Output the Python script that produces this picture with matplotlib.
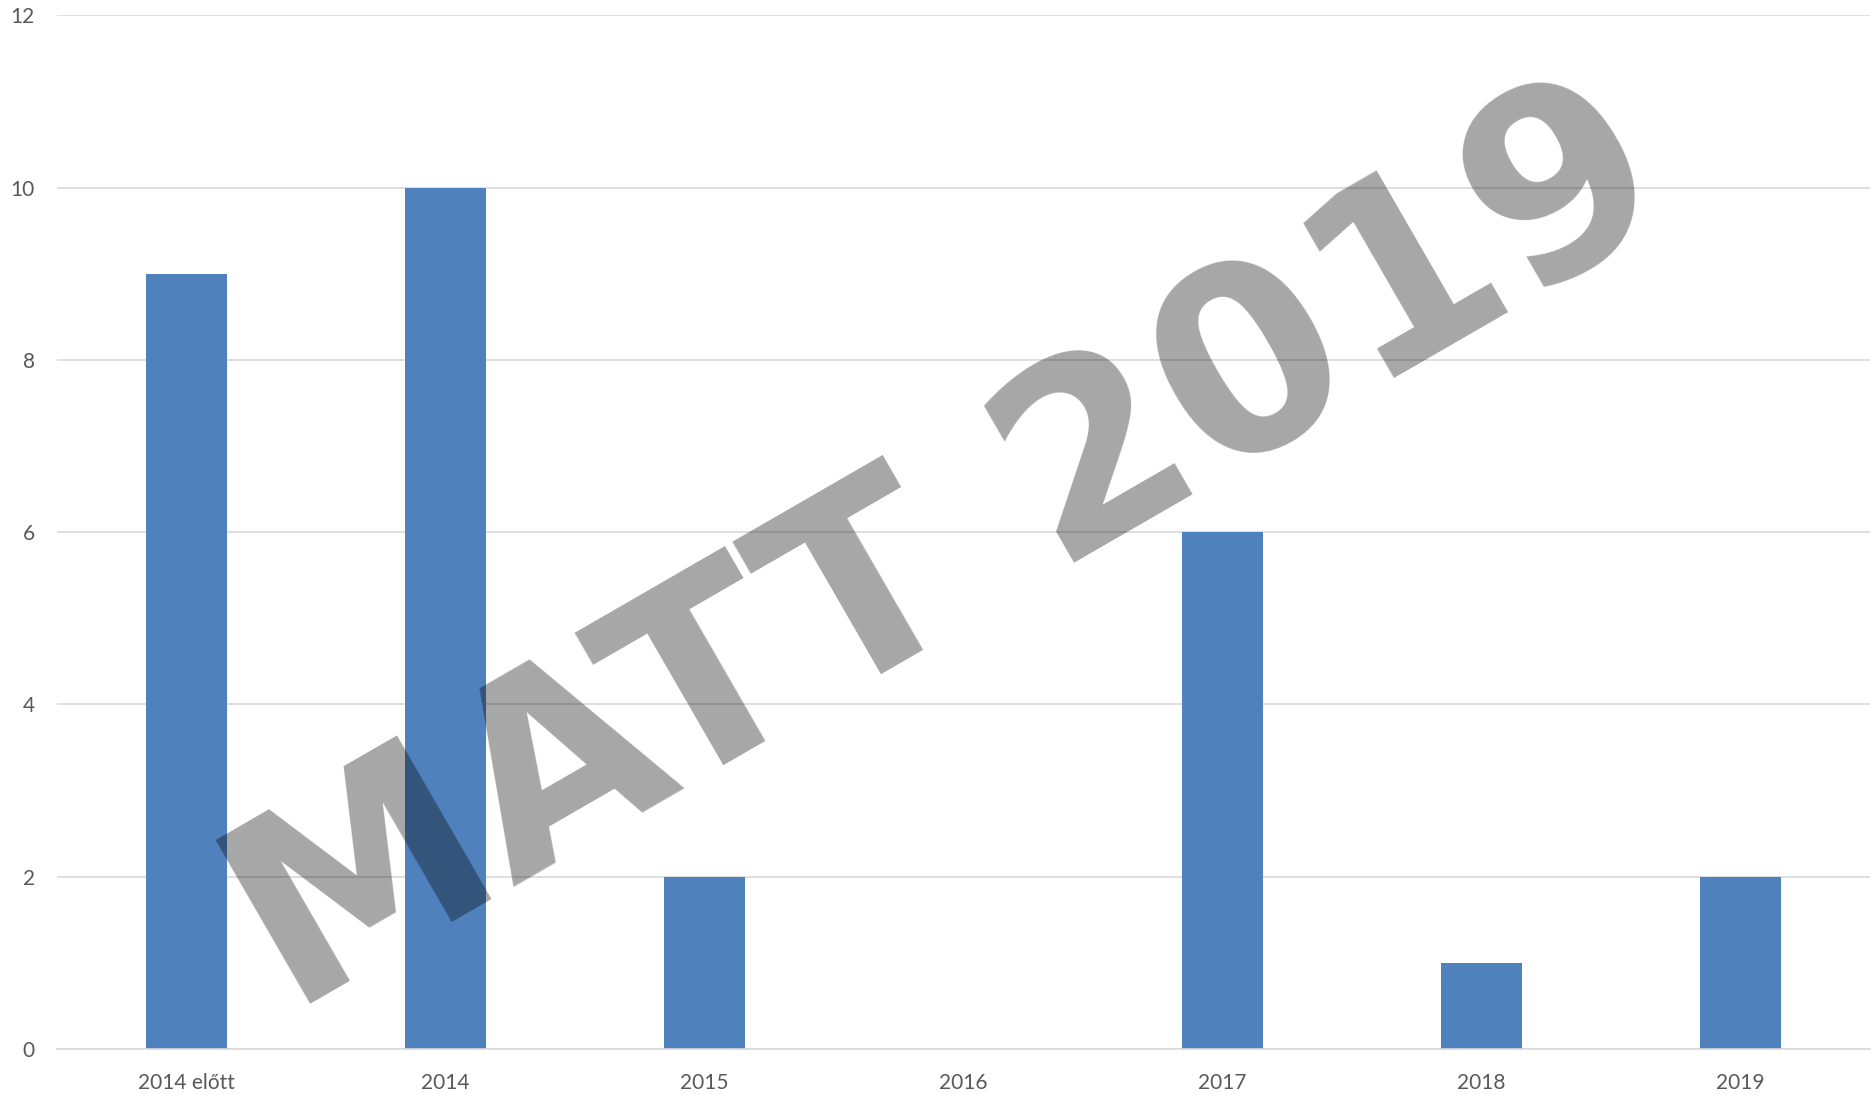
import matplotlib
matplotlib.use("Agg")
import matplotlib.pyplot as plt

#---------------Data--------------------------------------------------

categories = ["2014 előtt", "2014", "2015", "2016", "2017", "2018", "2019"]
counts = [9, 10, 2, 0, 6, 1, 2]
yticks = [0, 2, 4, 6, 8, 10, 12]

bar_color = "#4F81BD"
grid_color = "#D9D9D9"
label_color = "#595959"

#---------------Figure------------------------------------------------

fig = plt.figure(figsize=(18.72, 10.95), dpi=100)
ax = fig.add_axes([0.0304, 0.042, 0.9686, 0.944])

x = range(len(categories))
ax.bar(x, counts, width=0.31, color=bar_color, zorder=2)

ax.set_xlim(-0.5, len(categories) - 0.5)
ax.set_ylim(0, 12)
ax.set_yticks(yticks)
ax.set_xticks(list(x))
ax.set_xticklabels(categories)

ax.yaxis.grid(True, color=grid_color, linewidth=1.2, zorder=0)
for side in ["top", "right", "left"]:
    ax.spines[side].set_visible(False)
ax.spines["bottom"].set_color(grid_color)
ax.spines["bottom"].set_linewidth(1.2)

ax.tick_params(axis="both", length=0, labelsize=15, labelcolor=label_color)
ax.tick_params(axis="y", pad=16)
ax.tick_params(axis="x", pad=17)
for lbl in ax.get_xticklabels() + ax.get_yticklabels():
    lbl.set_fontfamily("Lato")

#watermark
fig.text(0.526, 0.4386, "MATT 2019", transform=fig.transFigure,
         fontsize=186, fontweight="bold", family="DejaVu Sans",
         color="black", alpha=0.35, rotation=30, rotation_mode="anchor",
         ha="center", va="baseline", zorder=5)

fig.savefig("out.png", dpi=100)
